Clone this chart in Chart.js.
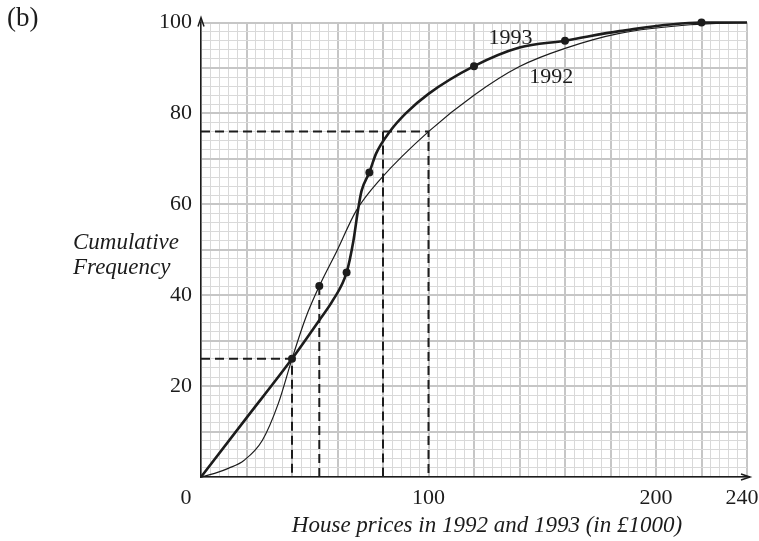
<!DOCTYPE html>
<html>
<head>
<meta charset="utf-8">
<script src="https://cdn.jsdelivr.net/npm/chart.js@4.4.1/dist/chart.umd.min.js"></script>
<style>
  html, body { margin: 0; padding: 0; background: #fff; }
  #wrap { width: 759px; height: 541px; }
</style>
</head>
<body>
<div id="wrap"><canvas id="cf" width="759" height="541"></canvas></div>
<script>
// Cumulative frequency curves, house prices (in £1000)
const X_TICK_LABELS = [100, 200];
const X_END_LABEL = 240; // drawn pulled in from the canvas edge
const Y_TICK_LABELS = [20, 40, 60, 80, 100];

// 1993 curve (thick), with the plotted points marked
const price1993 = [0, 20, 40, 52, 58, 64, 67, 69, 70.6, 74, 77, 83, 90, 100, 120, 140, 160, 184, 220, 240];
const cum1993   = [0, 13, 26, 34.5, 38.9, 45, 52, 58.7, 63, 67, 71.2, 76, 80, 84.3, 90.4, 94.5, 96, 98.1, 100, 100];
const marked1993 = [40, 64, 74, 120, 160, 220];

// 1992 curve (thin)
const price1992 = [0, 6, 12, 19, 27, 34, 40, 46, 52, 60, 68, 79, 100, 120, 140, 160, 184, 215, 240];
const cum1992   = [0, 0.8, 1.9, 3.7, 8.1, 16.2, 26, 35, 42, 50, 58.4, 65.6, 76, 84, 90.3, 94.3, 97.6, 99.5, 100];
const marked1992 = [52];

// dashed read-offs: the 26 line, the 42 point and the 76 line
const guideQ1 = [[0, 26], [40, 26], [40, 0]];
const guide52 = [[52, 42], [52, 0]];
const guide76 = [[0, 76], [100, 76], [100, 0]];
const guide80 = [[80, 76], [80, 0]];

const INK = "#1c1c1c";
const SERIF = "'Liberation Serif', 'DejaVu Serif', serif";

function toPoints(xs, ys) {
  return xs.map((x, i) => ({ x, y: ys[i] }));
}

function curveDataset(label, xs, ys, marked, width) {
  return {
    label,
    data: toPoints(xs, ys),
    showLine: true,
    clip: false,
    borderColor: INK,
    backgroundColor: INK,
    borderWidth: width,
    cubicInterpolationMode: "monotone",
    pointRadius: xs.map((x) => (marked.includes(x) ? 4 : 0)),
    pointBorderWidth: 0,
  };
}

function guideDataset(pairs) {
  return {
    data: pairs.map(([x, y]) => ({ x, y })),
    showLine: true,
    borderColor: INK,
    borderWidth: 2,
    borderDash: [9, 5],
    pointRadius: 0,
    tension: 0,
  };
}

// Text and arrow heads that sit outside the normal axis furniture
const decorations = {
  id: "decorations",
  afterDraw(chart) {
    const { ctx, chartArea: a, scales: { x, y } } = chart;
    ctx.save();
    ctx.strokeStyle = INK;
    ctx.fillStyle = INK;
    ctx.lineWidth = 1.5;

    // y axis arrow
    ctx.beginPath();
    ctx.moveTo(a.left, a.top);
    ctx.lineTo(a.left, a.top - 4);
    ctx.stroke();
    ctx.beginPath();
    ctx.moveTo(a.left - 3, a.top + 4);
    ctx.lineTo(a.left, a.top - 5);
    ctx.lineTo(a.left + 3, a.top + 4);
    ctx.stroke();

    // x axis arrow
    ctx.beginPath();
    ctx.moveTo(a.right, a.bottom);
    ctx.lineTo(a.right + 3, a.bottom);
    ctx.stroke();
    ctx.beginPath();
    ctx.moveTo(a.right - 6, a.bottom - 3);
    ctx.lineTo(a.right + 3, a.bottom);
    ctx.lineTo(a.right - 6, a.bottom + 3);
    ctx.stroke();

    ctx.textBaseline = "middle";
    ctx.font = `27px ${SERIF}`;
    ctx.textAlign = "left";
    ctx.fillText("(b)", 7, 19);

    ctx.font = `22px ${SERIF}`;
    ctx.textAlign = "center";
    ctx.fillText("0", a.left - 15, a.bottom + 21);
    ctx.fillText(String(X_END_LABEL), x.getPixelForValue(X_END_LABEL) - 5, a.bottom + 21);
    ctx.fillText("1993", x.getPixelForValue(136), y.getPixelForValue(96.6));
    ctx.fillText("1992", x.getPixelForValue(154), y.getPixelForValue(88));

    ctx.font = `italic 23px ${SERIF}`;
    ctx.textAlign = "left";
    ctx.fillText("Cumulative", 73, 243);
    ctx.fillText("Frequency", 73, 268);
    ctx.textAlign = "center";
    ctx.fillText("House prices in 1992 and 1993 (in £1000)", 487, 526);
    ctx.restore();
  },
};

const isMajor = (v, step) => Math.abs(v % step) < 1e-6;

new Chart(document.getElementById("cf"), {
  type: "scatter",
  data: {
    datasets: [
      guideDataset(guideQ1),
      guideDataset(guide52),
      guideDataset(guide76),
      guideDataset(guide80),
      curveDataset("1992", price1992, cum1992, marked1992, 1.2),
      curveDataset("1993", price1993, cum1993, marked1993, 2.6),
    ],
  },
  options: {
    responsive: false,
    animation: false,
    layout: { padding: { top: 22.5, right: 12, left: 0, bottom: 0 } },
    plugins: { legend: { display: false }, tooltip: { enabled: false } },
    scales: {
      x: {
        type: "linear",
        min: 0,
        max: 240,
        afterFit: (s) => { s.height = 64; s.paddingRight = 0; s.paddingLeft = 0; },
        border: { display: true, color: INK, width: 1.5 },
        grid: {
          drawTicks: false,
          color: (c) => (isMajor(c.tick.value, 20) ? "#c6c6c6" : "#d9d9d9"),
          lineWidth: (c) => (isMajor(c.tick.value, 20) ? 2 : 1),
        },
        ticks: {
          stepSize: 4,
          autoSkip: false,
          maxRotation: 0,
          padding: 8,
          color: INK,
          font: { family: SERIF, size: 22 },
          callback: (v) => (X_TICK_LABELS.includes(v) ? String(v) : ""),
        },
      },
      y: {
        type: "linear",
        min: 0,
        max: 100,
        afterFit: (s) => { s.width = 201; s.paddingTop = 0; s.paddingBottom = 0; },
        border: { display: true, color: INK, width: 1.5 },
        grid: {
          drawTicks: false,
          color: (c) => (isMajor(c.tick.value, 10) ? "#c6c6c6" : "#d9d9d9"),
          lineWidth: (c) => (isMajor(c.tick.value, 10) ? 2 : 1),
        },
        ticks: {
          stepSize: 2,
          autoSkip: false,
          padding: 9,
          color: INK,
          font: { family: SERIF, size: 22 },
          callback: (v) => (Y_TICK_LABELS.includes(v) ? String(v) : ""),
        },
      },
    },
  },
  plugins: [decorations],
});
</script>
</body>
</html>
